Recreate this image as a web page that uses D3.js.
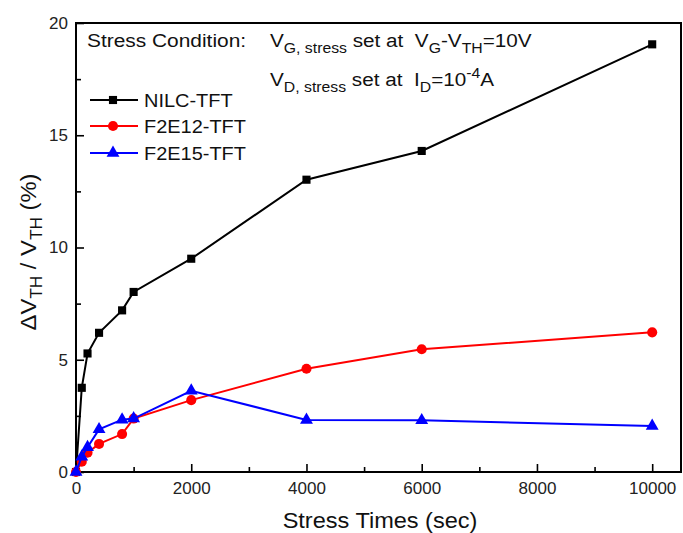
<!DOCTYPE html>
<html>
<head>
<meta charset="utf-8">
<script src="https://cdn.jsdelivr.net/npm/d3@7/dist/d3.min.js"></script>
<style>
  body { margin: 0; background: #fff; }
  svg { font-family: "Liberation Sans", Arial, sans-serif; }
  text { white-space: pre; }
</style>
</head>
<body>
<div id="chart"></div>
<script>
// stress time (sec)
const times = [0, 100, 200, 400, 800, 1000, 2000, 4000, 6000, 10000];
// delta Vth / Vth (%)
const nilc  = [0, 3.75, 5.28, 6.2, 7.2, 8.02, 9.5, 13.02, 14.3, 19.05];
const f2e12 = [0, 0.46, 0.86, 1.25, 1.69, 2.38, 3.2, 4.6, 5.47, 6.22];
const f2e15 = [0, 0.68, 1.1, 1.9, 2.33, 2.38, 3.62, 2.32, 2.3, 2.05];

const seriesNames = ["NILC-TFT", "F2E12-TFT", "F2E15-TFT"];
const seriesColors = ["#000000", "#ff0000", "#0000ff"];
const seriesShapes = [d3.symbolSquare, d3.symbolCircle, d3.symbolTriangle];
const seriesSizes = [66, 80, 72];

const xTicks = [0, 2000, 4000, 6000, 8000, 10000];
const yTicks = [0, 5, 10, 15, 20];

const width = 683, height = 533;
const margin = {top: 23, right: 2, bottom: 61, left: 76};

const svg = d3.select("#chart").append("svg")
    .attr("width", width)
    .attr("height", height);

// escalas
const x = d3.scaleLinear().domain([0, 10500]).range([margin.left, width - margin.right]);
const y = d3.scaleLinear().domain([0, 20]).range([height - margin.bottom, margin.top]);

// eixos com ticks para dentro
svg.append("g")
    .attr("transform", `translate(0,${height - margin.bottom})`)
    .call(d3.axisBottom(x).tickValues(xTicks).tickSize(-8).tickPadding(10).tickFormat(d3.format("d")));
svg.append("g")
    .attr("transform", `translate(0,${height - margin.bottom})`)
    .call(d3.axisBottom(x).tickValues(d3.range(1000, 10001, 2000)).tickSize(-5).tickFormat(""));
svg.append("g")
    .attr("transform", `translate(${margin.left},0)`)
    .call(d3.axisLeft(y).tickValues(yTicks).tickSize(-8).tickPadding(8));
svg.append("g")
    .attr("transform", `translate(${margin.left},0)`)
    .call(d3.axisLeft(y).tickValues([2.5, 7.5, 12.5, 17.5]).tickSize(-5).tickFormat(""));

svg.selectAll(".domain").remove();
svg.selectAll(".tick line").attr("stroke", "#000").attr("stroke-width", 1.6);
svg.selectAll(".tick text").attr("font-size", 17).attr("fill", "#222")
    .attr("font-family", "'Liberation Sans', Arial, sans-serif");

// moldura
svg.append("rect")
    .attr("x", margin.left).attr("y", margin.top)
    .attr("width", width - margin.right - margin.left)
    .attr("height", height - margin.bottom - margin.top)
    .attr("fill", "none").attr("stroke", "#000").attr("stroke-width", 2);

// séries
const allSeries = [nilc, f2e12, f2e15];
const line = d3.line().x((d, i) => x(times[i])).y(d => y(d));

allSeries.forEach((vals, k) => {
  svg.append("path")
      .datum(vals)
      .attr("fill", "none")
      .attr("stroke", seriesColors[k])
      .attr("stroke-width", 2)
      .attr("d", line);
  svg.append("g").selectAll("path")
    .data(vals)
    .join("path")
      .attr("transform", (d, i) => `translate(${x(times[i])},${y(d)})`)
      .attr("d", d3.symbol(seriesShapes[k], seriesSizes[k]))
      .attr("fill", seriesColors[k]);
});

// legenda
const legY = [100, 126, 153];
seriesNames.forEach((name, k) => {
  const g = svg.append("g").attr("transform", `translate(90,${legY[k]})`);
  g.append("line").attr("x1", 0).attr("x2", 48).attr("stroke", seriesColors[k]).attr("stroke-width", 2);
  g.append("path").attr("transform", "translate(23,0)")
    .attr("d", d3.symbol(seriesShapes[k], seriesSizes[k]))
    .attr("fill", seriesColors[k]);
  g.append("text").attr("transform", "translate(54,7) scale(1.05,1)")
    .attr("font-size", 19).attr("fill", "#111").text(name);
});

// anotação
svg.append("text").attr("transform", "translate(87,47) scale(1.1,1)")
    .attr("font-size", 19).attr("fill", "#111")
    .text("Stress Condition:");

const l1 = svg.append("text").attr("transform", "translate(270,47) scale(1.09,1)")
    .attr("font-size", 19).attr("fill", "#111");
l1.append("tspan").text("V");
l1.append("tspan").attr("font-size", 14.5).attr("dy", 6).text("G, stress");
l1.append("tspan").attr("dy", -6).text(" set at  V");
l1.append("tspan").attr("font-size", 14.5).attr("dy", 6).text("G");
l1.append("tspan").attr("dy", -6).text("-V");
l1.append("tspan").attr("font-size", 14.5).attr("dy", 6).text("TH");
l1.append("tspan").attr("dy", -6).text("=10V");

const l2 = svg.append("text").attr("transform", "translate(270,86) scale(1.09,1)")
    .attr("font-size", 19).attr("fill", "#111");
l2.append("tspan").text("V");
l2.append("tspan").attr("font-size", 14.5).attr("dy", 6).text("D, stress");
l2.append("tspan").attr("dy", -6).text(" set at  I");
l2.append("tspan").attr("font-size", 14.5).attr("dy", 6).text("D");
l2.append("tspan").attr("dy", -6).text("=10");
l2.append("tspan").attr("font-size", 14.5).attr("dy", -8).text("-4");
l2.append("tspan").attr("dy", 8).text("A");

// títulos dos eixos
svg.append("text")
    .attr("transform", "translate(380,528) scale(1.07,1)")
    .attr("text-anchor", "middle").attr("font-size", 22).attr("fill", "#111")
    .text("Stress Times (sec)");

const yt = svg.append("text")
    .attr("transform", "translate(36,252) rotate(-90) scale(1.08,1)")
    .attr("text-anchor", "middle").attr("font-size", 22).attr("fill", "#111");
yt.append("tspan").text("ΔV");
yt.append("tspan").attr("font-size", 16).attr("dy", 6).text("TH");
yt.append("tspan").attr("dy", -6).text(" / V");
yt.append("tspan").attr("font-size", 16).attr("dy", 6).text("TH");
yt.append("tspan").attr("dy", -6).text(" (%)");
</script>
</body>
</html>
